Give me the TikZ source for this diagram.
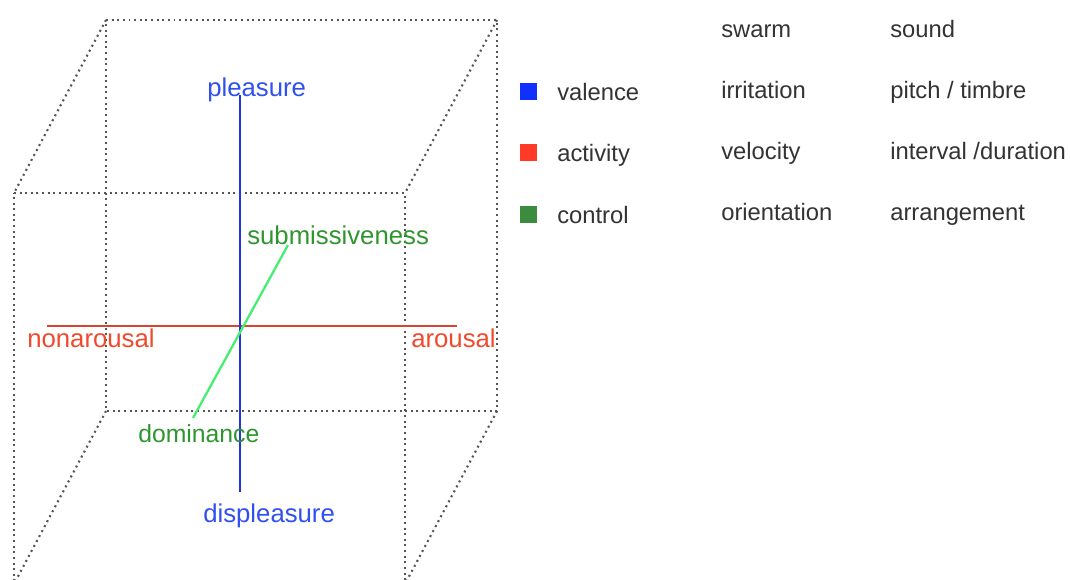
\documentclass[tikz,border=0pt]{standalone}
\usepackage{fontspec}
\setmainfont{Liberation Sans}
\usetikzlibrary{positioning}
\definecolor{valline}{HTML}{2233E0}
\definecolor{valtext}{HTML}{3050F0}
\definecolor{actline}{HTML}{D84430}
\definecolor{acttext}{HTML}{F04A2E}
\definecolor{ctlline}{HTML}{44EE70}
\definecolor{ctltext}{HTML}{2F962F}
\definecolor{valbox}{HTML}{1030FF}
\definecolor{actbox}{HTML}{FF3A26}
\definecolor{ctlbox}{HTML}{3C8C40}
\definecolor{cubegray}{HTML}{555555}
\definecolor{ink}{HTML}{333333}
\tikzstyle{cubeedge} = [line width=1.5pt, cubegray, dash pattern=on 1.4pt off 2.6pt]
\tikzstyle{axis} = [line width=1.6pt]
\tikzstyle{axlabel} = [anchor=base west, inner sep=0pt, font=\fontsize{18.3}{22}\selectfont]
\tikzstyle{txt} = [anchor=base west, inner sep=0pt, text=ink, font=\fontsize{16.9}{20}\selectfont]
\tikzstyle{legbox} = [minimum size=17*0.025cm, inner sep=0pt]

\begin{document}
\begin{tikzpicture}[x=0.025cm,y=-0.025cm]
    \clip (0,0) rectangle (1070,579);
    \fill[white] (0,0) rectangle (1070,579);
    % cube
    \coordinate (bTL) at (106,20);  \coordinate (bTR) at (497,20);
    \coordinate (bBL) at (106,411); \coordinate (bBR) at (497,411);
    \coordinate (fTL) at (14,193);  \coordinate (fTR) at (405,193);
    \coordinate (fBL) at (14,584);  \coordinate (fBR) at (405,584);
    \draw[cubeedge] (bTL) -- (bTR) -- (bBR) -- (bBL) -- cycle;
    \draw[cubeedge] (fTL) -- (fTR) -- (fBR) -- (fBL) -- cycle;
    \foreach \c in {TL,TR,BL,BR}
        \draw[cubeedge] (b\c) -- (f\c);
    % axes
    \coordinate (valTop) at (240,95);
    \coordinate (valBot) at (240,492);
    \coordinate (actL) at (47,326);
    \coordinate (actR) at (457,326);
    \coordinate (ctlTop) at (288,245);
    \coordinate (ctlBot) at (193,418);
    \draw[axis, actline] (actL) -- (actR);
    \draw[axis, valline] (valTop) -- (valBot);
    \draw[axis, ctlline] (ctlTop) -- (ctlBot);
    \node[axlabel, text=valtext] (pleasure) at (207,96) {pleasure};
    \node[axlabel, text=valtext] (displeasure) at (203,522) {displeasure};
    \node[axlabel, text=acttext] (nonarousal) at (27,347) {nonarousal};
    \node[axlabel, text=acttext] (arousal) at (411,347) {arousal};
    \node[axlabel, text=ctltext] (submiss) at (247,244) {submissiveness};
    \node[axlabel, text=ctltext, font=\fontsize{17.6}{21}\selectfont] (dominance) at (138,442) {dominance};
    % legend
    \foreach \i/\y/\col/\lab in {1/100/valbox/valence,2/161/actbox/activity,3/223/ctlbox/control}{
        \node[legbox, fill=\col] (box\i) at (528.5,\y-8.5) {};
        \node[txt] (leg\i) at (557,\y) {\lab};
    }
    % table
    \foreach \i/\y/\swarm/\sound in {0/37/swarm/sound,1/98/irritation/{pitch / timbre},
        2/159/velocity/{interval /duration},3/220/orientation/arrangement}{
        \node[txt] (sw\i) at (721,\y) {\swarm};
        \node[txt] (so\i) at (890,\y) {\sound};
    }
\end{tikzpicture}
\end{document}
